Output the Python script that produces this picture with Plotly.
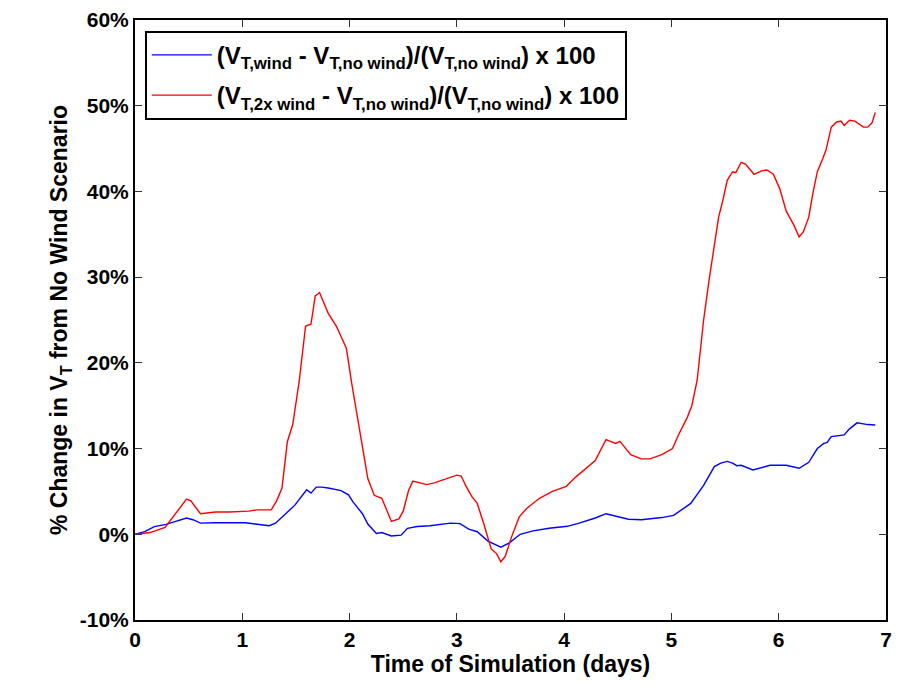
import plotly.graph_objects as go

# Time of simulation (days)
days_wind = [0.00, 0.09, 0.18, 0.29, 0.38, 0.48, 0.54, 0.61, 0.75, 0.94, 1.03, 1.12, 1.25, 1.31,
             1.37, 1.45, 1.49, 1.60, 1.64, 1.69, 1.74, 1.80, 1.92, 1.99, 2.03, 2.12, 2.17, 2.25,
             2.30, 2.39, 2.48, 2.54, 2.63, 2.75, 2.94, 3.03, 3.11, 3.19, 3.29, 3.41, 3.49, 3.59,
             3.71, 3.86, 4.03, 4.14, 4.29, 4.39, 4.49, 4.60, 4.72, 4.91, 5.02, 5.12, 5.18, 5.30,
             5.40, 5.46, 5.52, 5.57, 5.61, 5.65, 5.76, 5.92, 6.07, 6.19, 6.28, 6.36, 6.42, 6.45,
             6.49, 6.61, 6.66, 6.73, 6.83, 6.90]
# % change, wind vs. no wind
pct_wind = [0.0, 0.3, 0.9, 1.15, 1.5, 1.9, 1.7, 1.3, 1.35, 1.4, 1.35, 1.2, 1.0, 1.3,
            2.0, 3.0, 3.4, 5.2, 4.8, 5.5, 5.5, 5.4, 5.1, 4.6, 3.8, 2.4, 1.2, 0.1,
            0.2, -0.2, -0.1, 0.7, 0.9, 1.0, 1.3, 1.25, 0.6, 0.3, -0.8, -1.5, -1.0, 0.0,
            0.4, 0.7, 0.93, 1.3, 1.9, 2.4, 2.1, 1.75, 1.7, 1.95, 2.2, 3.1, 3.6, 5.7,
            7.9, 8.3, 8.5, 8.3, 8.0, 8.05, 7.5, 8.05, 8.05, 7.7, 8.4, 10.0, 10.6, 10.7,
            11.4, 11.6, 12.3, 13.0, 12.8, 12.75]

days_2x = [0.00, 0.14, 0.28, 0.38, 0.48, 0.52, 0.61, 0.75, 0.88, 1.06, 1.14, 1.27, 1.32, 1.37,
           1.42, 1.47, 1.53, 1.59, 1.64, 1.68, 1.72, 1.80, 1.88, 1.92, 1.97, 2.02, 2.08, 2.17,
           2.23, 2.30, 2.39, 2.46, 2.50, 2.55, 2.59, 2.72, 2.79, 2.91, 3.00, 3.04, 3.09, 3.14,
           3.19, 3.25, 3.32, 3.37, 3.41, 3.45, 3.51, 3.58, 3.65, 3.77, 3.89, 4.02, 4.11, 4.29,
           4.39, 4.48, 4.52, 4.62, 4.72, 4.80, 4.91, 5.01, 5.07, 5.15, 5.19, 5.24, 5.30, 5.35,
           5.40, 5.44, 5.48, 5.52, 5.57, 5.60, 5.65, 5.69, 5.77, 5.84, 5.89, 5.95, 6.01, 6.07,
           6.14, 6.19, 6.23, 6.28, 6.32, 6.36, 6.41, 6.44, 6.49, 6.54, 6.58, 6.61, 6.66, 6.71,
           6.79, 6.83, 6.87, 6.90]
# % change, doubled wind vs. no wind
pct_2x = [0.0, 0.2, 0.8, 2.5, 4.1, 3.9, 2.4, 2.6, 2.6, 2.7, 2.85, 2.85, 3.9, 5.4,
          10.8, 12.8, 17.8, 24.3, 24.5, 27.8, 28.2, 25.8, 24.2, 23.1, 21.7, 17.6, 13.0, 6.5,
          4.55, 4.2, 1.5, 1.8, 2.7, 5.1, 6.2, 5.8, 6.0, 6.5, 6.9, 6.8, 5.5, 4.4,
          3.6, 1.25, -1.7, -2.25, -3.2, -2.6, -0.3, 2.0, 3.0, 4.2, 5.0, 5.6, 6.7, 8.6,
          11.05, 10.6, 10.85, 9.3, 8.8, 8.8, 9.3, 10.0, 11.7, 13.7, 15.0, 18.0, 25.0, 29.6,
          33.9, 37.0, 39.0, 41.3, 42.3, 42.2, 43.4, 43.2, 42.0, 42.4, 42.5, 42.0, 40.3, 37.7,
          36.1, 34.7, 35.3, 37.0, 39.9, 42.3, 43.8, 44.8, 47.5, 48.1, 48.2, 47.7, 48.3, 48.2,
          47.5, 47.5, 48.0, 49.2]

x_ticks = [0, 1, 2, 3, 4, 5, 6, 7]
y_ticks = [-10, 0, 10, 20, 30, 40, 50, 60]
y_tick_labels = [f"{v}%" for v in y_ticks]

name_wind = "(V<sub>T,wind</sub> - V<sub>T,no wind</sub>)/(V<sub>T,no wind</sub>) x 100"
name_2x = "(V<sub>T,2x wind</sub> - V<sub>T,no wind</sub>)/(V<sub>T,no wind</sub>) x 100"

FONT = "Liberation Sans, Arial, sans-serif"

fig = go.Figure()
fig.add_trace(go.Scatter(x=days_wind, y=pct_wind, mode="lines", name=name_wind,
                         legendgroup="wind",
                         line=dict(color="#0000FF", width=1.4)))
fig.add_trace(go.Scatter(x=days_2x, y=pct_2x, mode="lines", name=name_2x,
                         legendgroup="wind2x",
                         line=dict(color="#FF0000", width=1.4)))

axis_common = dict(
    showline=True, linecolor="black", linewidth=2, mirror="ticks",
    ticks="inside", ticklen=7, tickwidth=1, tickcolor="#333333",
    showgrid=False, zeroline=False,
    tickfont=dict(family=FONT, size=21, color="black", weight="bold"),
)

fig.update_layout(
    width=898, height=688,
    margin=dict(l=135, r=6, t=20, b=68),
    paper_bgcolor="white", plot_bgcolor="white",
    font=dict(family=FONT, color="black"),
    xaxis=dict(
        range=[0, 7], tickvals=x_ticks, ticktext=[str(v) for v in x_ticks],
        title=dict(text="Time of Simulation (days)", standoff=2,
                   font=dict(family=FONT, size=23, color="black", weight="bold")),
        **axis_common,
    ),
    yaxis=dict(
        range=[-10, 60], tickvals=y_ticks, ticktext=y_tick_labels,
        title=dict(text="% Change in V<sub>T</sub> from No Wind Scenario", standoff=6,
                   font=dict(family=FONT, size=23, color="black", weight="bold")),
        **axis_common,
    ),
    legend=dict(
        x=0.013, y=0.982, xanchor="left", yanchor="top",
        bgcolor="white", bordercolor="black", borderwidth=2,
        font=dict(family=FONT, size=24, color="black", weight="bold"),
        tracegroupgap=6, itemwidth=60,
    ),
    showlegend=True,
)

fig.write_html("out.html")
